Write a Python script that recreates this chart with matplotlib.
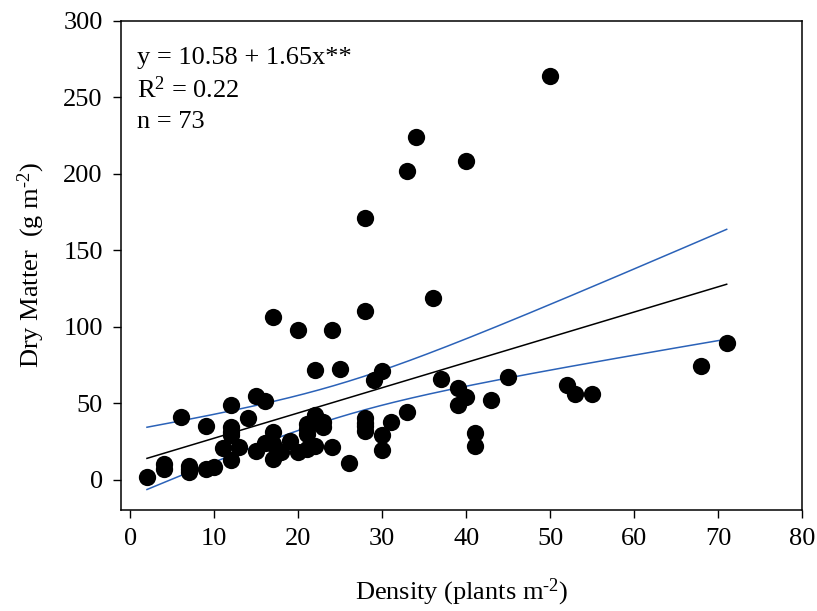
import numpy as np
import matplotlib
matplotlib.use("Agg")
import matplotlib.pyplot as plt

# plant density (plants m-2) and dry matter (g m-2)
density = [2, 4, 4, 6, 7, 7, 7, 9, 10, 9, 11, 12, 12, 12, 12, 12, 13, 14, 15, 15,
           16, 16, 17, 17, 17, 17, 18, 19, 20, 20, 21, 21, 21, 21, 22, 22, 22, 23,
           23, 24, 24, 25, 26, 28, 28, 28, 28, 28, 28, 29, 30, 30, 30, 31, 33, 33,
           34, 36, 37, 39, 39, 40, 40, 41, 41, 43, 45, 50, 52, 53, 55, 68, 71]
dry_matter = [2, 10, 7, 41, 9, 5, 7, 7, 8.5, 35, 20.5, 49, 34.5, 29, 31, 12.6, 21,
              40, 54.5, 18.5, 51.5, 24, 106, 31, 23, 13.3, 18, 25, 98, 18, 36.5,
              33, 29.5, 20, 71.5, 42.5, 22, 37.5, 34.5, 98, 21.5, 72, 11, 171,
              110, 40, 37, 35, 31.5, 65, 71, 29, 19.5, 37.5, 44, 202, 224, 119,
              66, 60, 49, 54, 208, 30.5, 22, 52, 67, 264, 62, 56, 56, 74, 89]

# regression reported on the figure
intercept = 10.58
slope = 1.65
r2_text = "0.22"
t_crit = 1.994  # t(0.975, n-2)

plt.rcParams['font.family'] = ['Liberation Serif', 'DejaVu Serif']
plt.rcParams['mathtext.fontset'] = 'custom'
plt.rcParams['mathtext.rm'] = 'Liberation Serif'
plt.rcParams['mathtext.it'] = 'Liberation Serif:italic'

x = np.array(density, dtype=float)
y = np.array(dry_matter, dtype=float)
n = len(x)

# fitted line and 95% confidence band
xs = np.linspace(x.min(), x.max(), 200)
fit = intercept + slope * xs
resid = y - (intercept + slope * x)
s = np.sqrt(np.sum(resid ** 2) / (n - 2))
sxx = np.sum((x - x.mean()) ** 2)
hw = t_crit * s * np.sqrt(1.0 / n + (xs - x.mean()) ** 2 / sxx)

fig = plt.figure(figsize=(8.17, 6.11), dpi=100)
ax = fig.add_axes([0.148, 0.165, 0.834, 0.801])

ax.plot(xs, fit, color='black', linewidth=1.1)
ax.plot(xs, fit + hw, color='#2b62b8', linewidth=1.1)
ax.plot(xs, fit - hw, color='#2b62b8', linewidth=1.1)
ax.scatter(x, y, s=155, color='black', zorder=3, linewidths=0)

ax.set_xlim(-1.1, 80)
ax.set_ylim(-20, 300)
ax.set_xticks(range(0, 81, 10))
ax.set_yticks(range(0, 301, 50))
ax.tick_params(direction='out', length=6, width=1, labelsize=19, pad=7)
for sp in ax.spines.values():
    sp.set_linewidth(1.1)

# superscript with a plain hyphen, like the original
sup = '$^{\\mathregular{\u20102}}$'
ax.set_xlabel('Density (plants m' + sup + ')', fontsize=19, labelpad=19)
ax.set_ylabel('Dry Matter  (g m' + sup + ')', fontsize=19, labelpad=12)

ax.text(0.023, 0.924, 'y = %.2f + %.2fx**' % (intercept, slope),
        transform=ax.transAxes, fontsize=19, va='center')
ax.text(0.023, 0.859, r'R$^{\mathregular{2}}$ = ' + r2_text,
        transform=ax.transAxes, fontsize=19, va='center')
ax.text(0.023, 0.793, 'n = %d' % n,
        transform=ax.transAxes, fontsize=19, va='center')

fig.savefig('out.png', dpi=100)
